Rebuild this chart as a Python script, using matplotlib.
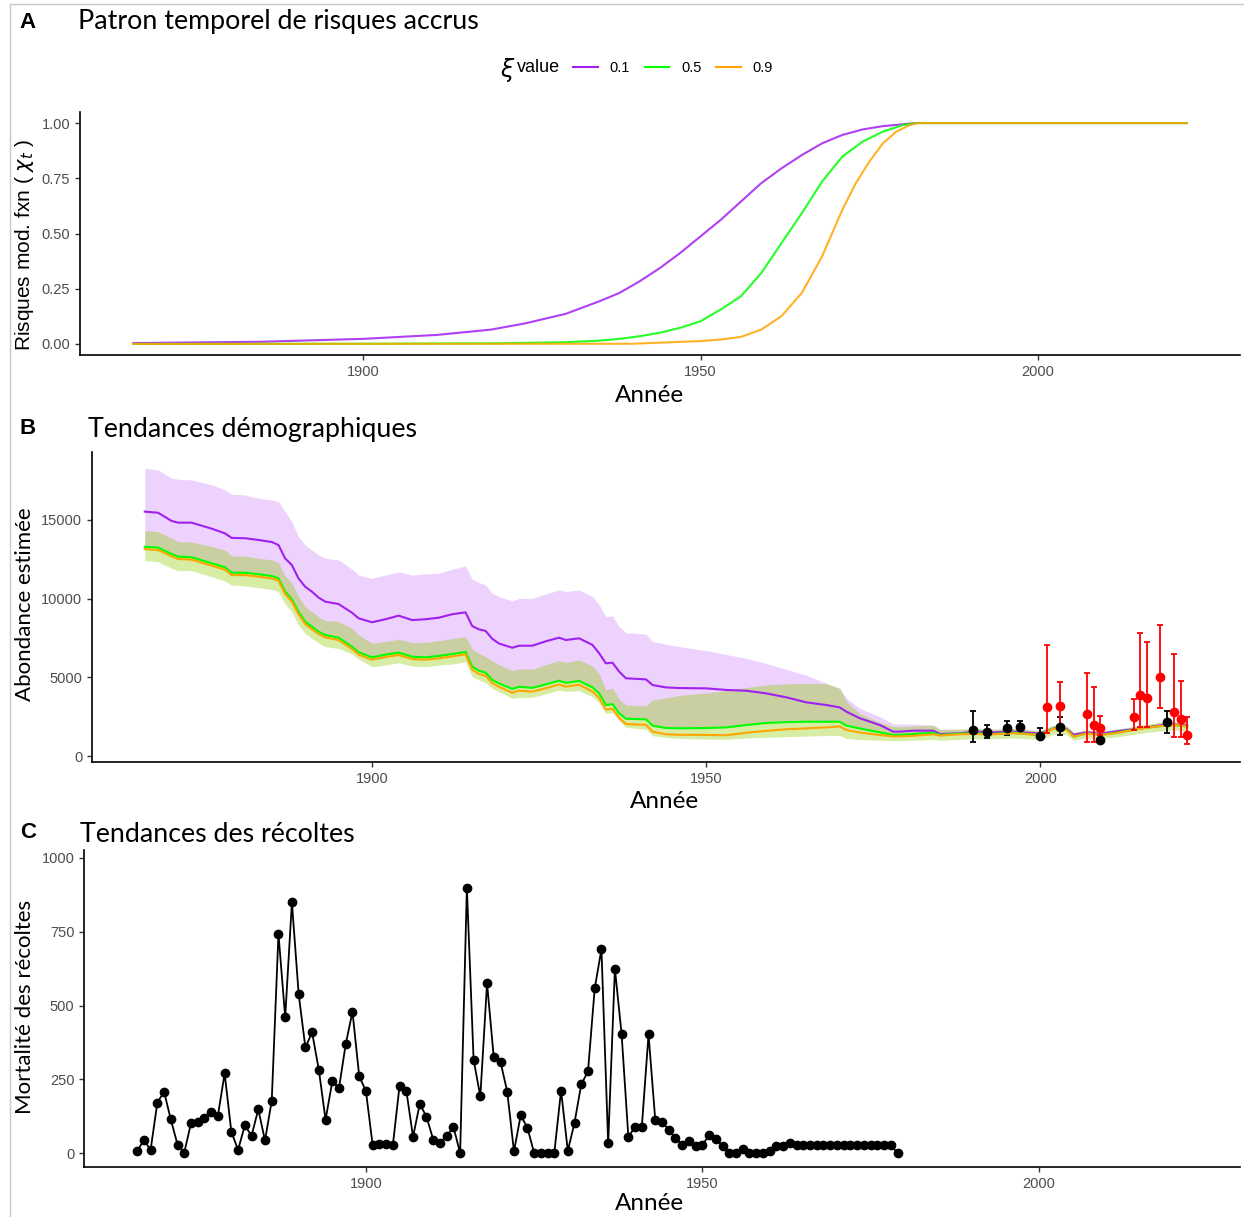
import numpy as np
import matplotlib
matplotlib.use("Agg")
import matplotlib.pyplot as plt
from matplotlib.lines import Line2D

# ---------------- panel A : modified risk function ----------------
risk_years_01 = [1866, 1885, 1900, 1911, 1919, 1924, 1930, 1935, 1938, 1941, 1944, 1947, 1950,
                 1953, 1956, 1959, 1962, 1965, 1968, 1971, 1974, 1977, 1982, 2022]
risk_01 = [0.004, 0.010, 0.023, 0.041, 0.065, 0.093, 0.136, 0.193, 0.231, 0.284, 0.344, 0.412, 0.487,
           0.562, 0.645, 0.728, 0.795, 0.855, 0.908, 0.946, 0.971, 0.986, 1.0, 1.0]

risk_years_05 = [1866, 1900, 1920, 1930, 1935, 1938, 1941, 1944, 1947, 1950, 1953, 1956, 1959,
                 1962, 1965, 1968, 1971, 1974, 1977, 1980, 1982, 2022]
risk_05 = [0.0, 0.001, 0.003, 0.008, 0.015, 0.023, 0.035, 0.051, 0.073, 0.103, 0.156, 0.216, 0.321,
           0.457, 0.592, 0.735, 0.848, 0.916, 0.961, 0.991, 1.0, 1.0]

risk_years_09 = [1866, 1940, 1950, 1953, 1956, 1959, 1962, 1965, 1968, 1971, 1973, 1975, 1977,
                 1979, 1981, 1982, 2022]
risk_09 = [0.0, 0.001, 0.013, 0.020, 0.032, 0.065, 0.126, 0.231, 0.396, 0.607, 0.728, 0.825, 0.908,
           0.961, 0.991, 1.0, 1.0]

xi_labels = ["0.1", "0.5", "0.9"]
xi_colors = ["#A020F0", "#00FF00", "#FFA500"]

# ---------------- panel B : abundance trends ----------------
abund_years = [1866, 1868, 1870, 1871, 1873, 1876, 1878, 1879, 1881, 1883, 1885, 1886, 1887, 1888,
               1889, 1890, 1891, 1892, 1893, 1895, 1897, 1898, 1900, 1902, 1904, 1906, 1908, 1910,
               1912, 1914, 1915, 1916, 1917, 1918, 1919, 1921, 1922, 1924, 1926, 1928, 1929, 1931,
               1933, 1934, 1935, 1936, 1937, 1938, 1941, 1942, 1944, 1946, 1950, 1953, 1956, 1959,
               1962, 1965, 1968, 1970, 1971, 1973, 1976, 1978, 1979, 1981, 1984, 1985, 1988, 1990,
               1993, 1996, 2000, 2002, 2004, 2005, 2007, 2009, 2012, 2015, 2018, 2020, 2022]

abund_01 = [15530, 15460, 14940, 14830, 14830, 14450, 14150, 13860, 13840, 13730, 13600, 13410, 12560, 12140,
            11290, 10760, 10450, 10070, 9810, 9660, 9110, 8750, 8500, 8690, 8920, 8640, 8690, 8790,
            9010, 9130, 8260, 8050, 7950, 7450, 7150, 6880, 7010, 7010, 7290, 7520, 7370, 7480,
            7060, 6530, 5890, 5930, 5360, 4940, 4870, 4510, 4360, 4320, 4300, 4200, 4150, 3980,
            3730, 3410, 3240, 3090, 2820, 2400, 1970, 1550, 1550, 1610, 1610, 1400, 1440, 1550,
            1500, 1550, 1420, 1750, 1700, 1350, 1500, 1420, 1600, 1750, 1950, 2000, 1950]
abund_01_hi = [18290, 18180, 17650, 17590, 17540, 17230, 16910, 16630, 16590, 16380, 16270, 16160, 15530, 14890,
               13940, 13410, 13090, 12780, 12560, 12460, 11870, 11500, 11290, 11500, 11700, 11500, 11570, 11610,
               11870, 12080, 11230, 11030, 10870, 10340, 10130, 9850, 10020, 10020, 10300, 10550, 10450, 10550,
               10130, 9600, 8850, 8900, 8220, 7840, 7750, 7270, 7100, 6950, 6700, 6450, 6210, 5880,
               5500, 5130, 4620, 4300, 3670, 3030, 2500, 2030, 2030, 2030, 1970, 1700, 1700, 1750,
               1700, 1750, 1600, 1950, 1900, 1500, 1650, 1550, 1750, 1900, 2100, 2150, 2100]

abund_05 = [13300, 13240, 12840, 12670, 12630, 12250, 11990, 11650, 11650, 11550, 11440, 11290, 10450, 9960,
            9170, 8540, 8220, 7900, 7690, 7520, 6950, 6590, 6270, 6440, 6570, 6310, 6270, 6360,
            6480, 6610, 5680, 5420, 5300, 4830, 4620, 4260, 4400, 4330, 4550, 4790, 4650, 4770,
            4360, 3980, 3240, 3300, 2710, 2370, 2330, 1930, 1780, 1760, 1780, 1820, 1970, 2100,
            2150, 2180, 2180, 2180, 1930, 1750, 1500, 1340, 1340, 1400, 1480, 1340, 1420, 1450,
            1400, 1480, 1340, 1760, 1680, 1230, 1440, 1340, 1520, 1760, 1900, 1970, 1880]
# the lower edge of the 0.1 band sits on the 0.5 estimate
abund_01_lo = list(abund_05)

abund_09 = [13150, 13090, 12690, 12520, 12480, 12100, 11840, 11500, 11500, 11400, 11290, 11140, 10300, 9810,
            9020, 8390, 8070, 7750, 7540, 7370, 6800, 6440, 6120, 6290, 6420, 6160, 6120, 6210,
            6330, 6460, 5480, 5220, 5100, 4630, 4400, 4020, 4160, 4090, 4310, 4550, 4410, 4530,
            4100, 3700, 2950, 3000, 2420, 2030, 1980, 1550, 1380, 1350, 1340, 1320, 1480, 1600,
            1700, 1760, 1820, 1880, 1650, 1500, 1330, 1250, 1250, 1280, 1380, 1300, 1380, 1400,
            1380, 1450, 1330, 1740, 1650, 1230, 1430, 1330, 1500, 1740, 1900, 1970, 1900]

# band shared by the 0.5 and 0.9 scenarios
abund_05_hi = [14320, 14260, 13840, 13620, 13600, 13310, 13090, 12710, 12710, 12560, 12460, 12290, 11440, 10980,
               10130, 9490, 9170, 8850, 8600, 8540, 8120, 7690, 7160, 7270, 7420, 7200, 7230, 7330,
               7460, 7590, 6780, 6530, 6310, 6050, 5800, 5420, 5530, 5510, 5800, 6060, 5950, 6100,
               5720, 5210, 4200, 4300, 3600, 3240, 3180, 3560, 3700, 3850, 4000, 4150, 4350, 4520,
               4580, 4620, 4600, 4300, 3450, 2710, 2120, 1860, 1860, 1900, 1950, 1700, 1700, 1750,
               1700, 1750, 1600, 1950, 1900, 1500, 1650, 1550, 1750, 1950, 2150, 2200, 2150]
abund_05_lo = [12420, 12350, 11930, 11780, 11780, 11400, 11120, 10870, 10810, 10700, 10590, 10450, 9660, 9170,
               8330, 7800, 7480, 7200, 6950, 6840, 6480, 6170, 5680, 5780, 5930, 5720, 5680, 5780,
               5850, 5990, 5040, 4830, 4660, 4280, 4090, 3670, 3730, 3730, 3950, 4200, 4100, 4150,
               3770, 3390, 2710, 2750, 2250, 1820, 1700, 1290, 1180, 1120, 1080, 1060, 1150, 1190,
               1230, 1270, 1300, 1310, 1120, 1050, 1000, 980, 980, 1000, 1050, 1000, 1050, 1100,
               1100, 1150, 1050, 1400, 1350, 1000, 1150, 1100, 1250, 1450, 1600, 1650, 1600]

survey_years = [1990, 1992, 1995, 1997, 2000, 2003, 2009, 2019]
survey_est = [1650, 1550, 1760, 1820, 1270, 1860, 1020, 2180]
survey_lo = [890, 1120, 1340, 1440, 1120, 1340, 950, 1440]
survey_hi = [2880, 1970, 2250, 2250, 1760, 2500, 1100, 2880]

index_years = [2001, 2003, 2007, 2008, 2009, 2014, 2015, 2016, 2018, 2020, 2021, 2022]
index_est = [3090, 3180, 2690, 1950, 1760, 2500, 3880, 3670, 5040, 2820, 2330, 1340]
index_lo = [1440, 1860, 910, 910, 1340, 1650, 1860, 1820, 3030, 1230, 1190, 760]
index_hi = [7060, 4730, 5300, 4360, 2560, 3600, 7840, 7250, 8330, 6480, 4790, 2460]

# ---------------- panel C : harvest ----------------
harvest_years = list(range(1866, 1980))
harvest = [7, 44, 11, 171, 208, 114, 29, 2, 101, 104, 120, 140, 127, 270, 72, 11, 94, 59, 148, 43,
           177, 743, 460, 850, 539, 358, 409, 282, 113, 243, 221, 370, 479, 261, 210, 27, 31, 31, 27, 229,
           212, 55, 167, 123, 46, 36, 57, 89, 0, 899, 317, 192, 575, 324, 309, 208, 6, 128, 86, 0,
           2, 2, 2, 212, 8, 103, 233, 277, 558, 691, 33, 625, 402, 55, 89, 89, 402, 112, 107, 78,
           50, 29, 41, 25, 28, 60, 49, 24, 0, 0, 15, 2, 2, 2, 7, 25, 25, 35, 27, 27,
           27, 27, 27, 27, 27, 27, 27, 27, 27, 27, 27, 27, 27, 0]

W, H = 1244, 1217
fig = plt.figure(figsize=(W / 100, H / 100), dpi=100)

title_font = "Lato"
tick_col = "#4D4D4D"
XLIM = (1858.1, 2029.9)


def px_axes(l, t, r, b):
    return fig.add_axes([l / W, 1 - b / H, (r - l) / W, (b - t) / H])


def style(ax):
    for s in ["top", "right"]:
        ax.spines[s].set_visible(False)
    for s in ["left", "bottom"]:
        ax.spines[s].set_linewidth(1.2)
        ax.spines[s].set_color("black")
    ax.tick_params(length=3.5, width=1.0, color="#333333", labelcolor=tick_col, labelsize=10.5)
    ax.set_xlim(*XLIM)
    ax.set_xticks([1900, 1950, 2000])
    for lab in ax.get_xticklabels() + ax.get_yticklabels():
        lab.set_family("Liberation Sans")


def ftext(x, y, s, **kw):
    fig.text(x / W, 1 - y / H, s, **kw)


# frame left by the slide
fig.add_artist(Line2D([10 / W, 10 / W], [0, 1 - 4 / H], color="#C8C8C8", lw=1.0))
fig.add_artist(Line2D([10 / W, 1], [1 - 4 / H, 1 - 4 / H], color="#C8C8C8", lw=1.0))

# ---- A
axA = px_axes(80, 112, 1240, 355)
for yrs, vals, c in zip([risk_years_01, risk_years_05, risk_years_09], [risk_01, risk_05, risk_09], xi_colors):
    axA.plot(yrs, vals, color=c, lw=1.5, alpha=0.85)
style(axA)
axA.set_ylim(-0.05, 1.05)
axA.set_yticks([0, 0.25, 0.5, 0.75, 1.0])
axA.set_yticklabels(["0.00", "0.25", "0.50", "0.75", "1.00"], family="Liberation Sans")

handles = [Line2D([], [], color=c, lw=1.5) for c in xi_colors]
fig.legend(handles, xi_labels, ncol=3, frameon=False, loc="center",
           bbox_to_anchor=(673 / W, 1 - 68 / H), handlelength=1.7, handletextpad=0.8,
           columnspacing=1.0, prop={"family": "Liberation Sans", "size": 10.5})
ftext(515, 70, r"$\xi$", ha="right", va="center", fontsize=17)
ftext(517, 68, "value", ha="left", va="center", fontsize=13, family="Liberation Sans")

ftext(28, 22, "A", ha="center", va="center", fontsize=16, weight="bold", family="Liberation Sans")
ftext(78, 22, "Patron temporel de risques accrus", ha="left", va="center", fontsize=19.3, family=title_font)
ftext(649, 395, "Année", ha="center", va="center", fontsize=17.5, family=title_font)
ftext(25, 245, r"Risques mod. fxn ( $\chi_t$ )", ha="center", va="center", rotation=90,
      fontsize=15, family="Liberation Sans")

# ---- B
axB = px_axes(92, 452, 1240, 762)
axB.errorbar(survey_years, survey_est, yerr=[np.subtract(survey_est, survey_lo), np.subtract(survey_hi, survey_est)],
             fmt="o", color="black", ms=6, lw=1.3, capsize=2.3, capthick=1.3)
axB.fill_between(abund_years, abund_01_lo, abund_01_hi, color="#A020F0", alpha=0.2, lw=0)
axB.plot(abund_years, abund_01, color="#A020F0", lw=1.5)
axB.fill_between(abund_years, abund_05_lo, abund_05_hi, color="#00FF00", alpha=0.2, lw=0)
axB.plot(abund_years, abund_05, color="#00FF00", lw=1.5)
axB.fill_between(abund_years, abund_05_lo, abund_05_hi, color="#FFA500", alpha=0.2, lw=0)
axB.plot(abund_years, abund_09, color="#FFA500", lw=1.5)
axB.errorbar(index_years, index_est, yerr=[np.subtract(index_est, index_lo), np.subtract(index_hi, index_est)],
             fmt="o", color="red", ms=6, lw=1.3, capsize=2.3, capthick=1.3)
style(axB)
axB.set_ylim(-380, 19320)
axB.set_yticks([0, 5000, 10000, 15000])

ftext(28, 428, "B", ha="center", va="center", fontsize=16, weight="bold", family="Liberation Sans")
ftext(88, 430, "Tendances démographiques", ha="left", va="center", fontsize=19.3, family=title_font)
ftext(664, 801, "Année", ha="center", va="center", fontsize=17.5, family=title_font)
ftext(25, 604, "Abondance estimée", ha="center", va="center", rotation=90, fontsize=16, family=title_font)

# ---- C
axC = px_axes(84, 850, 1240, 1167)
axC.plot(harvest_years, harvest, color="black", lw=1.3, marker="o", ms=6)
style(axC)
axC.set_ylim(-47, 1027)
axC.set_yticks([0, 250, 500, 750, 1000])

ftext(28, 833, "C", ha="center", va="center", fontsize=16, weight="bold", family="Liberation Sans")
ftext(80, 835, "Tendances des récoltes", ha="left", va="center", fontsize=19.3, family=title_font)
ftext(649, 1203, "Année", ha="center", va="center", fontsize=17.5, family=title_font)
ftext(25, 1007, "Mortalité des récoltes", ha="center", va="center", rotation=90, fontsize=16, family=title_font)

fig.savefig("out.png", dpi=100)
